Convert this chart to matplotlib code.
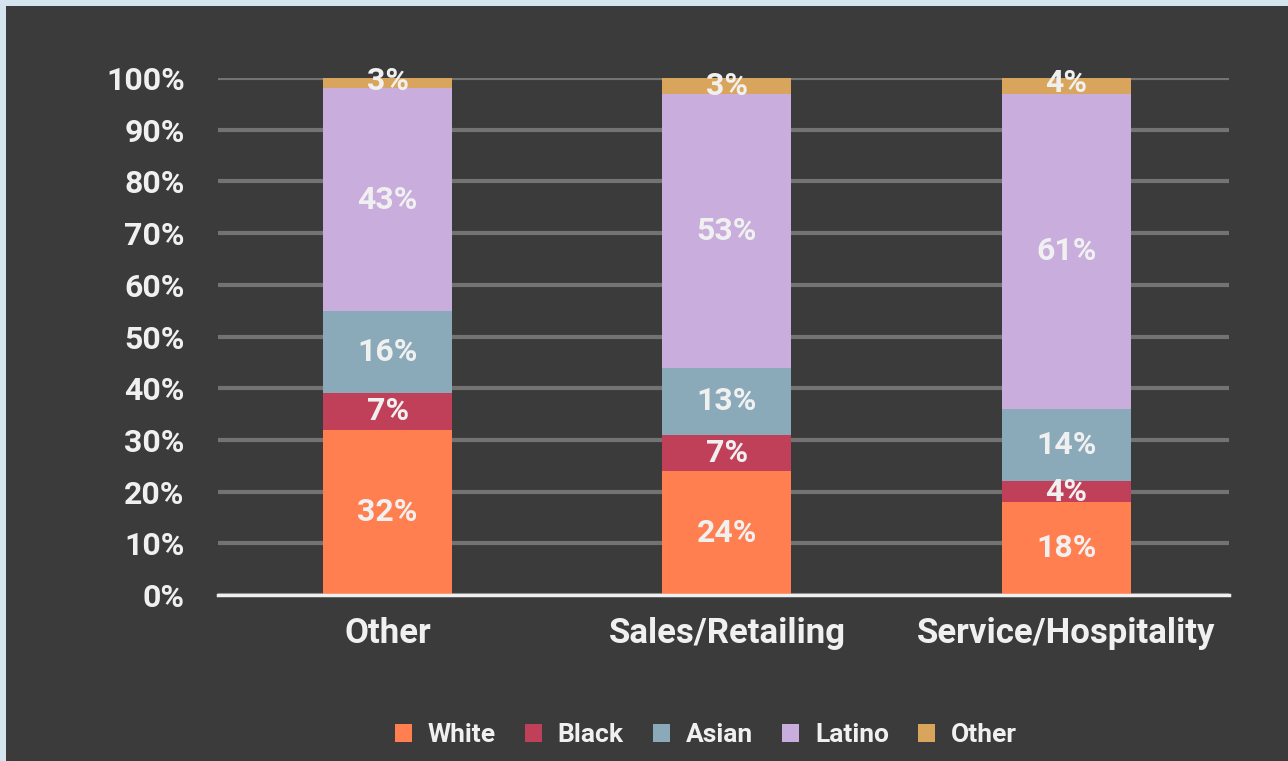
import numpy as np
import matplotlib
matplotlib.use('Agg')
import matplotlib.pyplot as plt
import matplotlib.patches as pch

plt.rcParams['font.family'] = ['Roboto', 'DejaVu Sans']
plt.rcParams['font.weight'] = 'bold'

categories = ['Other', 'Sales/Retailing', 'Service/Hospitality']
groups = ['White', 'Black', 'Asian', 'Latino', 'Other']
white = [32, 24, 18]
black = [7, 7, 4]
asian = [16, 13, 14]
latino = [43, 53, 61]
other = [3, 3, 4]
colors = ['#ff7f50', '#c0405a', '#8aaaba', '#c8addd', '#d9a45c']

bg = '#3b3b3b'
txt = '#f0f0f0'

fig = plt.figure(figsize=(12.88, 7.61), dpi=100)
fig.patch.set_facecolor('#d4e5f0')
# dark panel, leaving the thin light strip top and left
fig.add_artist(pch.Rectangle((6/1288, 0), 1, 1 - 6/761, transform=fig.transFigure,
                             facecolor=bg, edgecolor='none', zorder=0))

ax = fig.add_axes([0.1693, 0.2181, 0.9542 - 0.1693, 0.8975 - 0.2181])
ax.set_facecolor(bg)

x = np.arange(len(categories))
bottom = np.zeros(len(categories))
series = [white, black, asian, latino, other]
for name, vals, col in zip(groups, series, colors):
    vals = np.array(vals, dtype=float)
    ax.bar(x, vals, 0.38, bottom=bottom, color=col, label=name, zorder=3)
    for xi, b, v in zip(x, bottom, vals):
        ax.text(xi, b + v / 2, '%d%%' % v, ha='center', va='center',
                color=txt, fontsize=23, fontweight='bold', zorder=4)
    bottom += vals

ax.set_xlim(-0.5, 2.48)
ax.set_ylim(0, 100)
ax.set_yticks(np.arange(0, 101, 10))
ax.set_yticklabels(['%d%%' % t for t in range(0, 101, 10)], fontweight='bold', fontsize=23)
ax.yaxis.grid(True, color='#737373', linewidth=3, zorder=1)
ax.set_xticks(x)
ax.set_xticklabels(categories, fontweight='bold', fontsize=25)
ax.tick_params(axis='both', length=0, colors=txt)
ax.tick_params(axis='y', pad=24)
ax.tick_params(axis='x', pad=16)
for s in ['top', 'right', 'left']:
    ax.spines[s].set_visible(False)
ax.spines['bottom'].set_color('#f0f0f0')
ax.spines['bottom'].set_linewidth(2.5)
ax.spines['bottom'].set_zorder(5)

leg = fig.legend(loc='center', bbox_to_anchor=(0.548, 0.034), ncol=5, frameon=False,
                 prop={'size': 19, 'weight': 'bold'}, handlelength=0.65, handleheight=0.65,
                 handletextpad=0.6, columnspacing=1.1)
for t in leg.get_texts():
    t.set_color(txt)

fig.savefig('out.png', dpi=100, facecolor=fig.get_facecolor())
